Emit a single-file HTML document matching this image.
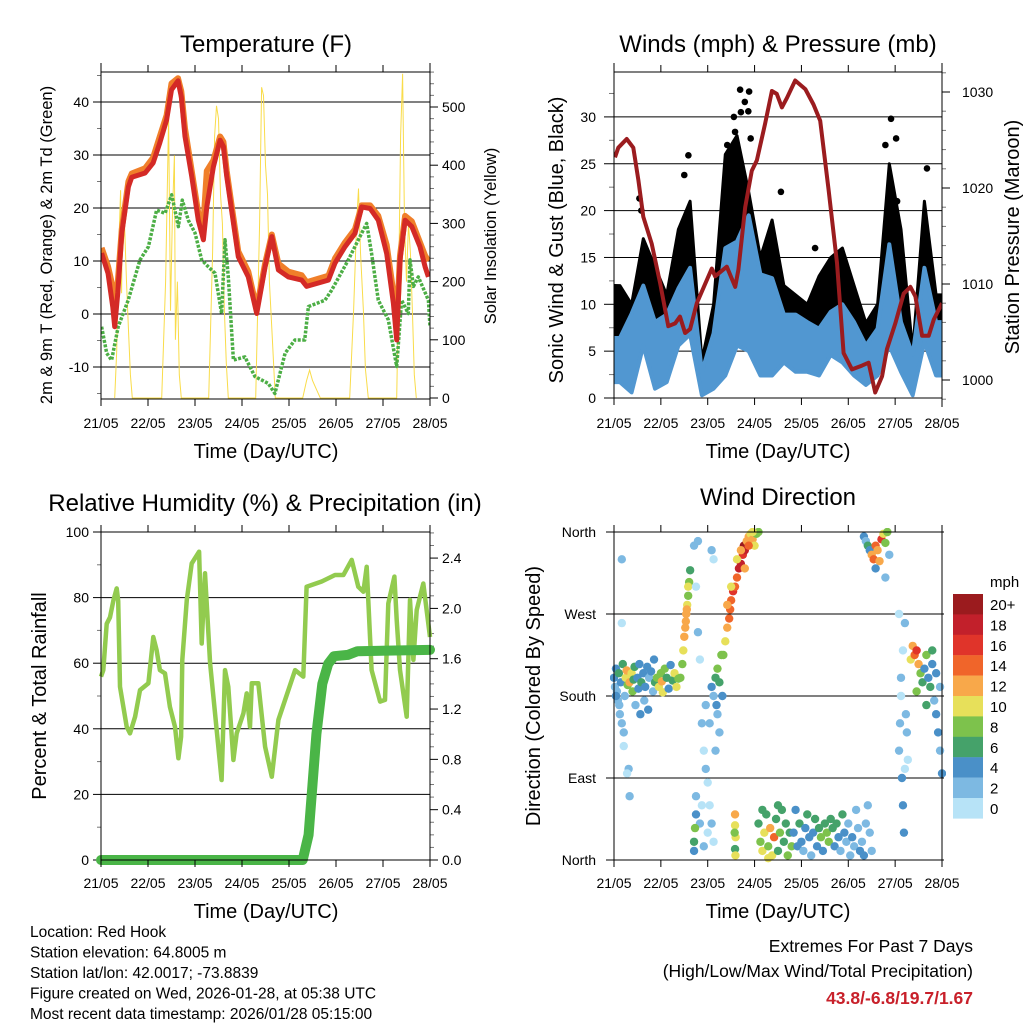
<!DOCTYPE html>
<html><head><meta charset="utf-8"><style>
html,body{margin:0;padding:0;background:#fff;}
svg{display:block;font-family:"Liberation Sans",Arial,sans-serif;}
</style></head><body>
<svg id="chart" width="1024" height="1024" viewBox="0 0 1024 1024" xmlns="http://www.w3.org/2000/svg"></svg>
<script>
// ---------- DATA ----------
const dayLabels = ['21/05','22/05','23/05','24/05','25/05','26/05','27/05','28/05'];
const tempT = [0.3,3.6,6,7,8.6,10.6,14,15.7,22.5,26.6,30,33.5,36,39.3,41,42.9,46.3,49.7,52.3,54,57.4,60.8,62.5,64.2,66.7,70.1,75.2,79.5,83.8,87.2,90.6,95.7,102.5,105,116.1,119.5,124.6,129.7,133.1,137.4,141.6,145.9,149.3,151,152.7,155.3,158.7,162.9,165.5,167.2];
const temp2m = [11.5,7.7,1.3,-2.4,4,15.3,24,25.8,26.6,28.5,32.3,36.6,42.3,44,41,33.5,26,17.7,14,20.2,27.8,32.8,31.6,26,19.6,10.8,7,0.1,8.9,14.6,8.3,7,6.4,5.2,6.4,9.6,12.7,15.2,20.2,19.9,17.7,11.4,2,-4.9,10.2,17.7,16.5,12.7,8.9,7];
const temp9m = [12.5,9,5,3,6,16,25,26.5,27.5,29.5,33.5,37.5,43.5,44.5,42,35,27,19,17,27,29,33.5,32.5,27,20.5,11.8,8,1,9.5,15,9.5,8,7.3,6,7.2,10.5,13.5,16,20.5,20.5,18.5,13,4,-2,11,18.5,17.5,13.5,11,10];
const dewT = [0.3,2.9,5.4,8.8,13.9,19.9,24.2,28.4,32.7,36.1,39.5,41.5,44.6,48,51.4,54.8,58.2,61.6,63.3,65,67.6,73.5,78.6,85.4,88.8,94,99,104,105.9,114.4,117.8,126.3,131.4,135.7,138.2,141.6,146.7,151,153.5,156.9,157.8,159.5,162,167.2,168];
const dewV = [-2.4,-7.4,-8.7,-2.4,2.6,10.2,12.7,19.6,19,22.5,16.5,21.5,17.7,15.3,10.2,8.9,7.7,0.1,14,7,-8.7,-8.1,-11.8,-13.1,-15,-7.4,-4.9,-4.9,1.4,2.6,4.5,10.2,14,17.1,11.4,2.6,-1.1,-9.9,2.6,0.1,10.2,5.2,7,2.6,-2.4];
const solarT = [7,8,9,10,10.5,11,12,13,14,15,16, 31,33,34.5,35.5,36.5,37.5,38,39,40,41, 55,57,58,59,60,61,62,63,64,65, 79,81,82,83,84,85,86,87.5,89, 103,105,106.5,108,110,112, 127,129,130.5,131.5,132.5,134,135,136.5, 151,152,153,154,155,156,157,158,159,160,161];
const solarV = [0,80,250,357,180,330,300,200,120,40,0, 0,200,482,150,320,417,100,200,40,0, 0,250,450,502,480,350,300,150,60,0, 0,300,534,520,400,350,200,100,0, 0,30,48,30,15,0, 0,150,300,360,250,150,50,0, 0,200,450,557,300,200,300,250,150,40,0];
const windBinT = [3,9,15,21,27,33,39,45,51,57,63,69,75,81,87,93,99,105,111,117,123,129,135,141,147,153,159,165];
const windLo = [1.7,0.6,5.6,1,1.7,5.6,6.8,0.3,1,2.4,5.6,5,2.4,2.4,3.8,2.8,2.8,2.4,4.6,3.8,2.4,1.4,2.4,5.6,2.8,0.3,6,2.4];
const windHi = [6.4,9,12,8.1,8.9,11.7,13.9,2.8,6.9,16,16.7,19.5,13.2,12.8,8.9,8.9,8.1,7.4,9.2,10,8.1,5.6,7.4,16.4,8.1,4.6,13.9,8.1];
const gustLo = [6,3,8,5,5,10,10,3,4,10,12,10,8,8,6,6,6,6,6,8,6,3,4,10,6,2,10,6];
const gustHi = [12,10,17,14,11,18,21,4,10,26,28,22,15,19,12,11,10,13,15,16,12,8,10,25,18,5,21,11];
const gustPeakT = [13,14,36,38.1,61.4,62,64.6,67,68.8,69.2,70,85.5,103,139,141.9,144.5,145,160.3,58,65];
const gustPeakV = [21.3,20,23.8,25.9,30,28.4,32.9,31.6,30.6,32.7,27.7,22,16,27,29.8,27.7,21,24.5,27,30.5];
const presT = [0.5,2.2,6.5,9.9,12.5,15,19.3,23.6,27.8,31.3,33.8,36.4,39,42.4,50.1,51.8,57.8,62.1,63.7,67.2,70.6,73.2,77.4,80.9,83.4,86,88.6,92.8,98,102.2,105.6,109.9,114.2,117.6,121.9,127,130.4,133.8,137.3,139.8,144.1,148.4,151.8,154.4,157.8,161.2,163.8,168];
const presV = [1023.2,1024.2,1025.1,1024.2,1020.8,1017,1014.2,1010.1,1005.6,1005.9,1006.6,1004.9,1005.3,1008,1011.6,1010.8,1011.8,1009.7,1011.5,1018,1021.8,1022.9,1026.7,1030.1,1029.8,1028.4,1029.4,1031.2,1030.3,1028.7,1027,1019.8,1012.2,1002.8,1001.1,1001.5,1001.8,998.7,1000.4,1003.2,1005.9,1009,1009.7,1008.7,1004.6,1004.6,1006.3,1008];
const rhT = [0,1.2,2.9,4.6,6.3,8,8.8,9.7,13.1,14.8,17.4,19.9,24.2,26.7,28.4,30.1,32.7,35.2,37.8,39.5,40.9,41.5,43.8,46.3,50.1,51.4,53.1,55.7,61.6,63.3,65,67.6,69.3,72.7,74.4,76.1,77,80.3,83.8,87.2,90.6,94,99.1,103.3,105,112.7,119.5,123.8,128,131.4,134,135.7,138.2,142.5,145,146.7,149.8,151,152.7,156.1,157.8,159.5,161.2,164.6,168];
const rhV = [55.9,57.9,72,74,79,82.8,79,52.8,40.6,38.6,43.7,51.8,53.9,68,64,57.9,56.9,46.7,40.6,31,37.6,61,79.3,90.4,94,66,87.4,60,24.4,57.9,52.8,30.5,38.6,44.7,50.8,40.6,53.9,53.9,34.5,25.4,42.7,48.8,57.9,55.9,83.3,84.9,86.9,86.9,91.5,83.3,81.8,89.4,57.9,48.3,48.8,78.2,86.4,73.2,57.9,43.7,79.3,61,76.2,84.3,68];
const precipT = [0,103,106,108,110,113,116,119,126,131,168];
const precipV = [0,0,0.2,0.6,1.0,1.4,1.56,1.62,1.63,1.66,1.67];
const dirT = [0,0.5,1,1.5,2,2.5,3,3.5,4,4.5,5,5.5,6,6.5,7,7.5,8,8,9,9.5,10,10.5,11,12,12.5,13,13.5,14,15,15.5,16,17,17.5,18,19,20,20.5,21,22,23,24,24.5,25,26,27,28,29,30,31,32,33,1,2.7,5,6.7,4,4,
 34,35,35.5,36,36.5,37,37.5,38,38.5,39,36.8,37.3,38,
 41,42,43,44,45,46,47,48,49,50,51,42,44,45,46,48,50,51,43,47,49,41,41.5,42,41,
 50,51,52,52.5,53,54,55,55.5,53,54,52,
 56,57,58,59,59.5,60,61,62,63,64,65,66,66.5,67,68,69,70,71,72,73,74,63,65,67,69,71,60,58,
 62,62,62.3,62,62.2,61.8,
 74,75,76,77,78,79,80,81,82,83,84,85,86,87,88,89,90,91,76,84,79,
 92,93,94,95,96,97,98,99,100,101,102,103,104,105,106,107,108,109,110,111,112,113,114,115,116,117,118,119,120,121,122,123,124,125,126,127,128,129,130,131,132,
 128,129,130,131,132,133,134,135,136,137,138,139,140,134,139,141,
 146,146.5,147,147.5,148,148.5,149,149.5,150,150.5,147,148,149,146,
 152,153,154,155,156,157,158,159,160,161,162,163,164,165,166,167,168,163,165,167,160,155];
const dirD = [200,190,210,185,175,205,160,195,150,215,140,180,200,208,192,100,70,195,205,185,198,212,170,200,188,215,160,195,205,175,190,212,165,200,207,185,220,195,200,190,205,196,184,210,200,188,214,197,205,190,199,180,170,125,95,330,260,
 200,215,230,245,255,270,280,290,305,318,262,275,300,
 345,300,250,220,150,120,100,85,60,40,20,70,40,60,15,30,340,330,350,170,150,20,35,50,10,
 190,180,200,170,210,195,225,180,160,140,120,
 225,240,255,265,275,285,295,300,310,320,325,335,345,340,350,355,358,352,345,358,360,330,340,320,345,360,300,280,
 50,38,25,12,5,30,
 40,20,10,30,50,15,35,5,25,45,10,30,55,20,40,5,30,15,55,60,2,
 30,55,15,40,20,10,35,50,25,5,30,45,15,35,25,10,40,30,20,45,35,15,40,25,10,50,30,20,40,5,25,15,55,35,10,20,5,40,60,30,10,
 355,350,345,340,335,330,345,340,328,352,358,348,360,320,310,335,
 120,150,180,90,60,30,100,160,140,110,200,230,260,270,
 220,235,225,230,215,205,195,210,225,200,190,215,175,160,140,120,95,230,205,190,170,185];
const dirS = [4,3,5,2,2,6,2,4,2,6,2,3,10,12,8,2,2,12,11,9,7,6,3,5,4,4,4,6,4,3,5,4,4,3,5,3,4,6,8,10,8,12,10,9,6,4,4,7,10,11,8,4,3,1,1,2,1,
 8,9,10,12,12,12,10,8,8,7,13,12,10,
 2,1,2,1,2,1,2,1,1,2,1,2,3,1,2,1,2,1,3,2,2,6,8,4,4,
 4,3,6,4,8,6,9,5,3,2,2,
 9,11,13,15,14,14,16,14,15,18,19,17,20,18,12,13,11,12,10,9,8,10,12,12,14,10,10,12,
 12,10,10,6,10,8,
 7,8,10,11,6,8,12,11,14,7,6,9,6,6,7,9,6,8,7,6,10,
 4,5,4,6,4,2,4,6,4,2,5,6,4,7,8,4,7,8,8,7,6,5,6,4,3,6,4,3,2,3,4,3,3,2,4,3,4,2,2,3,2,
 4,3,6,5,13,14,14,12,13,16,10,8,9,4,2,2,
 2,2,1,4,4,4,1,2,2,1,2,1,2,1,
 10,12,14,16,12,8,6,5,8,4,6,4,3,4,4,3,4,6,5,3,7,9];
const speedColors = ['#b7e3f7','#7db9e2','#4a90c8','#45a26a','#7dc24c','#e7e05a','#f8a84a','#f0652a','#e0342a','#c2202b','#9b1b1e'];
const speedLabels = ['0','2','4','6','8','10','12','14','16','18','20+'];

// ---------- HELPERS ----------
const NS = 'http://www.w3.org/2000/svg';
const svg = document.getElementById('chart');
function mk(tag, attrs, parent) {
  const e = document.createElementNS(NS, tag);
  for (const k in attrs) e.setAttribute(k, attrs[k]);
  (parent || svg).appendChild(e);
  return e;
}
function txt(s, x, y, size, anchor, parent, extra) {
  const e = mk('text', Object.assign({x: x, y: y, 'font-size': size, 'text-anchor': anchor || 'middle', fill: '#000'}, extra || {}), parent);
  e.textContent = s;
  return e;
}
function line(x1, y1, x2, y2, parent, w, c) {
  return mk('line', {x1: x1, y1: y1, x2: x2, y2: y2, stroke: c || '#000', 'stroke-width': w || 1}, parent);
}
function pathFrom(ts, vs, xf, yf) {
  let d = '';
  for (let i = 0; i < ts.length; i++) d += (i ? 'L' : 'M') + xf(ts[i]).toFixed(1) + ',' + yf(vs[i]).toFixed(1);
  return d;
}
const L = 101, R = 430, L2 = 614, R2 = 942;
const xA = h => L + h * (R - L) / 168;
const xB = h => L2 + h * (R2 - L2) / 168;

function frame(g, x0, x1, y0, y1, xf, tickY) {
  const fr = mk('rect', {x: x0, y: y0, width: x1 - x0, height: y1 - y0, fill: 'none', stroke: '#000', 'stroke-width': 1}, g);
  
  
  for (let d = 0; d < 8; d++) {
    const x = xf(d * 24);
    line(x, y1, x, y1 + 7, g);
    line(x, y0, x, y0 - 7, g);
    const t = txt(dayLabels[d], x, tickY, 14, 'middle', g);
    
    
  }
}

// ---------- PANEL 1 ----------
(function () {
  const g = mk('g', {});
  
  
  const T0 = 72, B0 = 399;
  const yT = v => 314 - v * 5.3;
  const yS = v => 398 - v * 0.582;
  for (let v = -10; v <= 40; v += 10) {
    line(L, yT(v), R, yT(v), g);
    line(L - 8, yT(v), L, yT(v), g);
    const t = txt(String(v), L - 12, yT(v) + 5, 14, 'end', g);
    
    
  }
  for (let v = -15; v <= 45; v += 10) line(L - 4, yT(v), L, yT(v), g, 1, '#777');
  line(L, 63, L, B0, g);
  line(R, 63, R, B0, g);
  for (let v = 0; v <= 560; v += 20) line(R, yS(v), R + (v % 100 === 0 ? 8 : 4), yS(v), g, 1, v % 100 === 0 ? '#000' : '#777');
  for (let v = 0; v <= 500; v += 100) {
    const t = txt(String(v), R + 12, yS(v) + 5, 14, 'start', g);
    
    
  }
  const clip = mk('clipPath', {id: 'c1'}, g);
  mk('rect', {x: L, y: T0, width: R - L, height: B0 - T0}, clip);
  const pg = mk('g', {'clip-path': 'url(#c1)'}, g);
  const sol = mk('path', {d: pathFrom(solarT, solarV, xA, yS), fill: 'none', stroke: '#f9dc4a', 'stroke-width': 1}, pg);
  
  
  const dew = mk('path', {d: pathFrom(dewT, dewV, xA, yT), fill: 'none', stroke: '#4cae45', 'stroke-width': 3.5, 'stroke-dasharray': '3 1.5', 'stroke-linejoin': 'round'}, pg);
  
  
  const t9 = mk('path', {d: pathFrom(tempT, temp9m, xA, yT), fill: 'none', stroke: '#f07f2a', 'stroke-width': 6, 'stroke-linejoin': 'round'}, pg);
  
  
  const t2 = mk('path', {d: pathFrom(tempT, temp2m, xA, yT), fill: 'none', stroke: '#d42a26', 'stroke-width': 5, 'stroke-linejoin': 'round'}, pg);
  
  
  frame(g, L, R, T0, B0, xA, 428);
  const ti = txt('Temperature (F)', 266, 52, 24, 'middle', g);
  
  
  const yl = txt('2m & 9m T (Red, Orange) & 2m Td (Green)', 0, 0, 16.5, 'middle', g, {transform: 'translate(52,245) rotate(-90)'});
  
  
  const yr = txt('Solar Insolation (Yellow)', 0, 0, 16.5, 'middle', g, {transform: 'translate(496,236) rotate(-90)'});
  
  
  const xl = txt('Time (Day/UTC)', 266, 458, 20, 'middle', g);
  
  
})();

// ---------- PANEL 2 ----------
(function () {
  const g = mk('g', {});
  
  
  const T0 = 72, B0 = 398;
  const yW = v => 398 - v * 9.37;
  const yP = p => 380 - (p - 1000) * 9.6;
  for (let v = 0; v <= 30; v += 5) {
    line(L2, yW(v), R2, yW(v), g);
    line(L2 - 10, yW(v), L2, yW(v), g);
    const t = txt(String(v), L2 - 18, yW(v) + 5, 14, 'end', g);
    
    
  }
  for (let v = 2.5; v <= 35; v += 5) line(L2 - 5, yW(v), L2, yW(v), g, 1, '#777');
  line(L2, 63, L2, B0, g);
  line(R2, 63, R2, 407, g);
  for (let p = 998; p <= 1032; p += 2) line(R2, yP(p), R2 + (p % 10 === 0 ? 8 : 4), yP(p), g, 1, p % 10 === 0 ? '#000' : '#777');
  for (let p = 1000; p <= 1030; p += 10) {
    const t = txt(String(p), R2 + 20, yP(p) + 5, 14, 'start', g);
    
    
  }
  const clip = mk('clipPath', {id: 'c2'}, g);
  mk('rect', {x: L2, y: T0, width: R2 - L2, height: B0 - T0}, clip);
  const pg = mk('g', {'clip-path': 'url(#c2)'}, g);
  function band(lo, hi) {
    const n = windBinT.length;
    let d = 'M' + xB(0) + ',' + yW(hi[0]);
    for (let i = 0; i < n; i++) d += 'L' + xB(windBinT[i]).toFixed(1) + ',' + yW(hi[i]).toFixed(1);
    d += 'L' + xB(168) + ',' + yW(hi[n - 1]) + 'L' + xB(168) + ',' + yW(lo[n - 1]);
    for (let i = n - 1; i >= 0; i--) d += 'L' + xB(windBinT[i]).toFixed(1) + ',' + yW(lo[i]).toFixed(1);
    d += 'L' + xB(0) + ',' + yW(lo[0]) + 'Z';
    return d;
  }
  const gb = mk('path', {d: band(gustLo, gustHi), fill: '#000', stroke: '#000', 'stroke-width': 3, 'stroke-linejoin': 'round'}, pg);
  
  
  for (let i = 0; i < gustPeakT.length; i++) {
    const c = mk('circle', {cx: xB(gustPeakT[i]), cy: yW(gustPeakV[i]), r: 3.3, fill: '#000'}, pg);
    
    
  }
  const wb = mk('path', {d: band(windLo, windHi), fill: '#5197d1', stroke: '#5197d1', 'stroke-width': 4, 'stroke-linejoin': 'round'}, pg);
  
  
  const pl = mk('path', {d: pathFrom(presT, presV, xB, yP), fill: 'none', stroke: '#9b1c1f', 'stroke-width': 4, 'stroke-linejoin': 'round'}, pg);
  
  
  frame(g, L2, R2, T0, B0, xB, 428);
  const ti = txt('Winds (mph) & Pressure (mb)', 778, 52, 24, 'middle', g);
  
  
  const yl = txt('Sonic Wind & Gust (Blue, Black)', 0, 0, 20, 'middle', g, {transform: 'translate(563,240) rotate(-90)'});
  
  
  const yr = txt('Station Pressure (Maroon)', 0, 0, 20, 'middle', g, {transform: 'translate(1019,237) rotate(-90)'});
  
  
  const xl = txt('Time (Day/UTC)', 778, 458, 20, 'middle', g);
  
  
})();

// ---------- PANEL 3 ----------
(function () {
  const g = mk('g', {});
  
  
  const T0 = 532, B0 = 860;
  const yH = v => 860 - v * 3.28;
  const yR = v => 860 - v * 125.8;
  for (let v = 0; v <= 100; v += 20) {
    line(L, yH(v), R, yH(v), g);
    line(L - 8, yH(v), L, yH(v), g);
    const t = txt(String(v), L - 12, yH(v) + 5, 14, 'end', g);
    
    
  }
  for (let v = 10; v <= 90; v += 20) line(L - 4, yH(v), L, yH(v), g, 1, '#777');
  line(L, T0, L, B0, g);
  line(R, T0, R, B0 + 2, g);
  for (let k = 0; k <= 26; k++) line(R, yR(k / 10), R + (k % 4 === 0 ? 8 : 4), yR(k / 10), g, 1, k % 4 === 0 ? '#000' : '#777');
  for (let k = 0; k <= 24; k += 4) {
    const t = txt((k / 10).toFixed(1), R + 12, yR(k / 10) + 5, 14, 'start', g);
    
    
  }
  const rh = mk('path', {d: pathFrom(rhT, rhV, xA, yH), fill: 'none', stroke: '#92cb4f', 'stroke-width': 4.5, 'stroke-linejoin': 'round'}, g);
  
  
  const pr = mk('path', {d: pathFrom(precipT, precipV, xA, yR), fill: 'none', stroke: '#4ab547', 'stroke-width': 10, 'stroke-linecap': 'round', 'stroke-linejoin': 'round'}, g);
  
  
  frame(g, L, R, T0, B0, xA, 888);
  const ti = txt('Relative Humidity (%) & Precipitation (in)', 265, 511, 24, 'middle', g);
  
  
  const yl = txt('Percent & Total Rainfall', 0, 0, 20, 'middle', g, {transform: 'translate(46,696) rotate(-90)'});
  
  
  const xl = txt('Time (Day/UTC)', 266, 918, 20, 'middle', g);
  
  
})();

// ---------- PANEL 4 ----------
(function () {
  const g = mk('g', {});
  
  
  const T0 = 532, B0 = 860;
  const yD = d => 860 - d * 328 / 360;
  const dirNames = ['North', 'East', 'South', 'West', 'North'];
  for (let i = 0; i < 5; i++) {
    const y = yD(i * 90);
    line(L2, y, R2 + 2, y, g);
    line(L2 - 8, y, L2, y, g);
    const t = txt(dirNames[i], L2 - 18, y + 5, 14, 'end', g);
    
    
  }
  const clip = mk('clipPath', {id: 'c4'}, g);
  mk('rect', {x: L2 - 4, y: T0 - 4, width: R2 - L2 + 8, height: B0 - T0 + 8}, clip);
  const pg = mk('g', {'clip-path': 'url(#c4)'}, g);
  for (let i = 0; i < dirT.length; i++) {
    const bin = Math.min(10, Math.floor(dirS[i] / 2));
    const c = mk('circle', {cx: xB(dirT[i]), cy: yD(dirD[i]), r: 4.2, fill: speedColors[bin]}, pg);
    
    
  }
  frame(g, L2, R2, T0, B0, xB, 888);
  const ti = txt('Wind Direction', 778, 505, 24, 'middle', g);
  
  
  const yl = txt('Direction (Colored By Speed)', 0, 0, 20, 'middle', g, {transform: 'translate(540,696) rotate(-90)'});
  
  
  const xl = txt('Time (Day/UTC)', 778, 918, 20, 'middle', g);
  
  
  const cb = mk('g', {}, g);
  
  
  const u = txt('mph', 990, 587, 15, 'start', cb);
  
  
  for (let i = 0; i < 11; i++) {
    const k = 10 - i;
    const y = 594 + i * 20.4;
    const r = mk('rect', {x: 953, y: y, width: 30, height: 20.6, fill: speedColors[k]}, cb);
    
    
    const t = txt(speedLabels[k], 990, y + 16, 15, 'start', cb);
    
    
  }
})();

// ---------- FOOTER ----------
(function () {
  const g = mk('g', {});
  
  
  const info = ['Location: Red Hook', 'Station elevation: 64.8005 m', 'Station lat/lon: 42.0017; -73.8839', 'Figure created on Wed, 2026-01-28, at 05:38 UTC', 'Most recent data timestamp: 2026/01/28 05:15:00'];
  for (let i = 0; i < info.length; i++) {
    const t = txt(info[i], 30, 937 + i * 20.5, 15.5, 'start', g);
    
    
  }
  const g2 = mk('g', {});
  
  
  const a = txt('Extremes For Past 7 Days', 973, 952, 17.5, 'end', g2);
  
  
  const b = txt('(High/Low/Max Wind/Total Precipitation)', 973, 977, 17.5, 'end', g2);
  
  
  const c = txt('43.8/-6.8/19.7/1.67', 973, 1004, 17.5, 'end', g2, {fill: '#c8202a', 'font-weight': 'bold'});
  
  
})();
</script>
</body></html>
